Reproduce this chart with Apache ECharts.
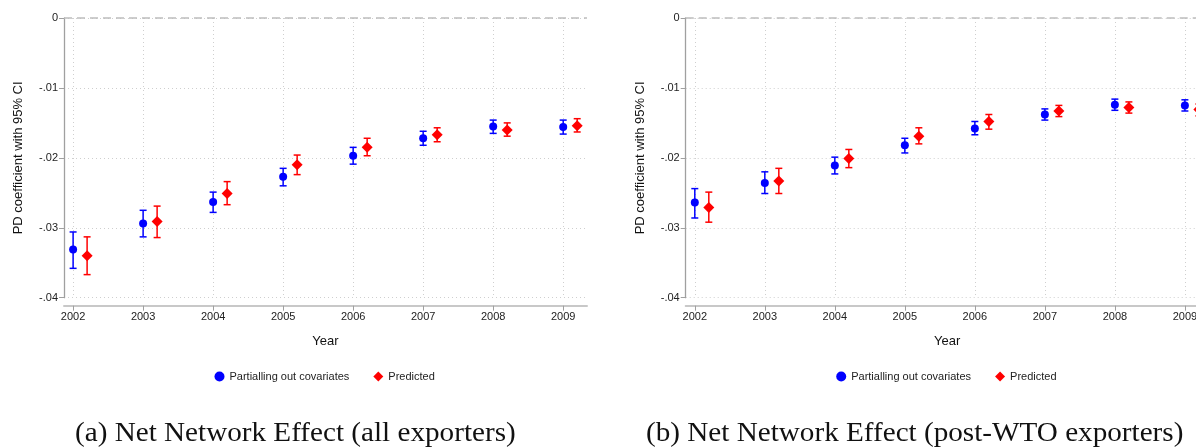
<!DOCTYPE html>
<html>
<head>
<meta charset="utf-8">
<title>Net Network Effect</title>
<script src="https://cdn.jsdelivr.net/npm/echarts@6/dist/echarts.min.js"></script>
<style>
  html, body { margin: 0; padding: 0; background: #ffffff; overflow: hidden; }
  /* the figure is a little wider than the page, so the right panel is cut at the edge */
  #chart { width: 1209px; height: 447px; }
</style>
</head>
<body>
<div id="chart"></div>
<script>
// Years on the horizontal axis
const years = [2002, 2003, 2004, 2005, 2006, 2007, 2008, 2009];

// Vertical axis ticks
const yTickValues = [-0.04, -0.03, -0.02, -0.01, 0];
const yTickLabels = ['-.04', '-.03', '-.02', '-.01', '0'];

// (a) all exporters: partialling out covariates
const partialAll   = [-0.0331, -0.0294, -0.0263, -0.0227, -0.0197, -0.0172, -0.0155, -0.0156];
const partialAllLo = [-0.0358, -0.0313, -0.0278, -0.0240, -0.0209, -0.0182, -0.0165, -0.0166];
const partialAllHi = [-0.0306, -0.0275, -0.0249, -0.0215, -0.0185, -0.0162, -0.0146, -0.0146];
// (a) all exporters: predicted
const predAll   = [-0.0340, -0.0291, -0.0251, -0.0210, -0.0185, -0.0167, -0.0160, -0.0154];
const predAllLo = [-0.0367, -0.0314, -0.0267, -0.0224, -0.0197, -0.0177, -0.0169, -0.0163];
const predAllHi = [-0.0313, -0.0269, -0.0234, -0.0196, -0.0172, -0.0157, -0.0150, -0.0144];

// (b) post-WTO exporters: partialling out covariates
const partialWto   = [-0.0264, -0.0236, -0.0211, -0.0182, -0.0158, -0.0138, -0.0124, -0.0125];
const partialWtoLo = [-0.0286, -0.0251, -0.0223, -0.0193, -0.0167, -0.0146, -0.0132, -0.0133];
const partialWtoHi = [-0.0244, -0.0220, -0.0199, -0.0172, -0.0148, -0.0130, -0.0116, -0.0117];
// (b) post-WTO exporters: predicted
const predWto   = [-0.0271, -0.0233, -0.0201, -0.0169, -0.0148, -0.0133, -0.0128, -0.0131];
const predWtoLo = [-0.0292, -0.0251, -0.0214, -0.0180, -0.0159, -0.0141, -0.0136, -0.0140];
const predWtoHi = [-0.0249, -0.0215, -0.0188, -0.0157, -0.0138, -0.0125, -0.0120, -0.0123];

// Predicted estimates sit slightly to the right of each year
const predShift = 0.2;

const seriesNames = ['Partialling out covariates', 'Predicted'];
const captions = ['(a) Net Network Effect (all exporters)', '(b) Net Network Effect (post-WTO exporters)'];

const BLUE = '#0000ff';
const RED = '#ff0000';

function points(vals, shift) {
  return vals.map((v, i) => [years[i] + shift, v]);
}
function intervals(lo, hi, shift) {
  return lo.map((l, i) => [years[i] + shift, l, hi[i]]);
}

// Vertical confidence-interval bar with short caps
function errorBar(color) {
  return function (params, api) {
    const x = api.value(0);
    const pLo = api.coord([x, api.value(1)]);
    const pHi = api.coord([x, api.value(2)]);
    const cap = 3.5;
    const style = { stroke: color, lineWidth: 1.5 };
    return {
      type: 'group',
      children: [
        { type: 'line', shape: { x1: pLo[0], y1: pLo[1], x2: pHi[0], y2: pHi[1] }, style: style },
        { type: 'line', shape: { x1: pHi[0] - cap, y1: pHi[1], x2: pHi[0] + cap, y2: pHi[1] }, style: style },
        { type: 'line', shape: { x1: pLo[0] - cap, y1: pLo[1], x2: pLo[0] + cap, y2: pLo[1] }, style: style }
      ]
    };
  };
}

const panels = [
  { partial: partialAll, partialLo: partialAllLo, partialHi: partialAllHi,
    pred: predAll, predLo: predAllLo, predHi: predAllHi },
  { partial: partialWto, partialLo: partialWtoLo, partialHi: partialWtoHi,
    pred: predWto, predLo: predWtoLo, predHi: predWtoHi }
];

// Two panels of identical size
const grids = [
  { left: 64, width: 523, top: 18, bottom: 149.3 },
  { left: 685.7, width: 523, top: 18, bottom: 149.3 }
];

const xAxes = grids.map((g, k) => ({
  type: 'value',
  gridIndex: k,
  min: 2001.87,
  max: 2009.34,
  offset: 8,
  name: 'Year',
  nameLocation: 'middle',
  nameGap: 29,
  nameTextStyle: { fontFamily: 'Liberation Sans', fontSize: 13, color: '#111' },
  axisLine: { show: true, onZero: false, lineStyle: { color: '#c8c8c8', width: 2 } },
  axisTick: { show: true, customValues: years, length: 5, lineStyle: { color: '#a0a0a0', width: 1 } },
  axisLabel: {
    customValues: years,
    formatter: v => String(Math.round(v)),
    fontFamily: 'Liberation Sans', fontSize: 11, color: '#222', margin: 6
  },
  splitLine: { show: true, lineStyle: { type: [1, 3], color: '#cfcfcf', width: 1 } }
}));

const yAxes = grids.map((g, k) => ({
  type: 'value',
  gridIndex: k,
  min: -0.04,
  max: 0,
  interval: 0.01,
  name: 'PD coefficient with 95% CI',
  nameLocation: 'middle',
  nameRotate: 90,
  nameGap: 39,
  nameTextStyle: { fontFamily: 'Liberation Sans', fontSize: 13, color: '#111' },
  axisLine: { show: true, onZero: false, lineStyle: { color: '#a0a0a0', width: 1.3 } },
  axisTick: { show: true, length: 5, lineStyle: { color: '#a0a0a0', width: 1 } },
  axisLabel: {
    formatter: v => {
      const i = yTickValues.findIndex(t => Math.abs(t - v) < 1e-9);
      return i >= 0 ? yTickLabels[i] : '';
    },
    fontFamily: 'Liberation Sans', fontSize: 11, color: '#222', margin: 6
  },
  splitLine: { show: true, lineStyle: { type: [1, 3], color: '#cfcfcf', width: 1 } }
}));

const series = [];
panels.forEach((p, k) => {
  series.push({
    type: 'custom', name: 'ci-partial-' + k, xAxisIndex: k, yAxisIndex: k,
    renderItem: errorBar(BLUE), encode: { x: 0, y: [1, 2] },
    data: intervals(p.partialLo, p.partialHi, 0), z: 2, silent: true
  });
  series.push({
    type: 'custom', name: 'ci-pred-' + k, xAxisIndex: k, yAxisIndex: k,
    renderItem: errorBar(RED), encode: { x: 0, y: [1, 2] },
    data: intervals(p.predLo, p.predHi, predShift), z: 2, silent: true
  });
  series.push({
    type: 'scatter', name: seriesNames[0], xAxisIndex: k, yAxisIndex: k,
    symbol: 'circle', symbolSize: 8, itemStyle: { color: BLUE, opacity: 1 },
    data: points(p.partial, 0), z: 3,
    markLine: {
      silent: true, symbol: 'none', label: { show: false },
      lineStyle: { type: [8, 5], color: '#bdbdbd', width: 1.5 },
      data: [{ yAxis: 0 }]
    }
  });
  series.push({
    type: 'scatter', name: seriesNames[1], xAxisIndex: k, yAxisIndex: k,
    symbol: 'diamond', symbolSize: 11, itemStyle: { color: RED, opacity: 1 },
    data: points(p.pred, predShift), z: 3
  });
});

const legends = [209.5, 831.2].map(x => ({
  left: x,
  top: 366,
  orient: 'horizontal',
  itemWidth: 10,
  itemHeight: 10,
  itemGap: 24,
  selectedMode: false,
  textStyle: { fontFamily: 'Liberation Sans', fontSize: 11, color: '#222' },
  data: [
    { name: seriesNames[0], icon: 'circle' },
    { name: seriesNames[1], icon: 'diamond' }
  ]
}));

const captionStyle = { font: '27px "Liberation Serif"', fill: '#111', textVerticalAlign: 'middle' };

const chart = echarts.init(document.getElementById('chart'), null, { renderer: 'canvas' });
chart.setOption({
  backgroundColor: '#ffffff',
  animation: false,
  grid: grids,
  xAxis: xAxes,
  yAxis: yAxes,
  legend: legends,
  series: series,
  graphic: [
    { type: 'text', x: 75, y: 434, scaleX: 1.08,
      style: Object.assign({ text: captions[0] }, captionStyle) },
    { type: 'text', x: 646, y: 434, scaleX: 1.08,
      style: Object.assign({ text: captions[1] }, captionStyle) }
  ]
});
</script>
</body>
</html>
